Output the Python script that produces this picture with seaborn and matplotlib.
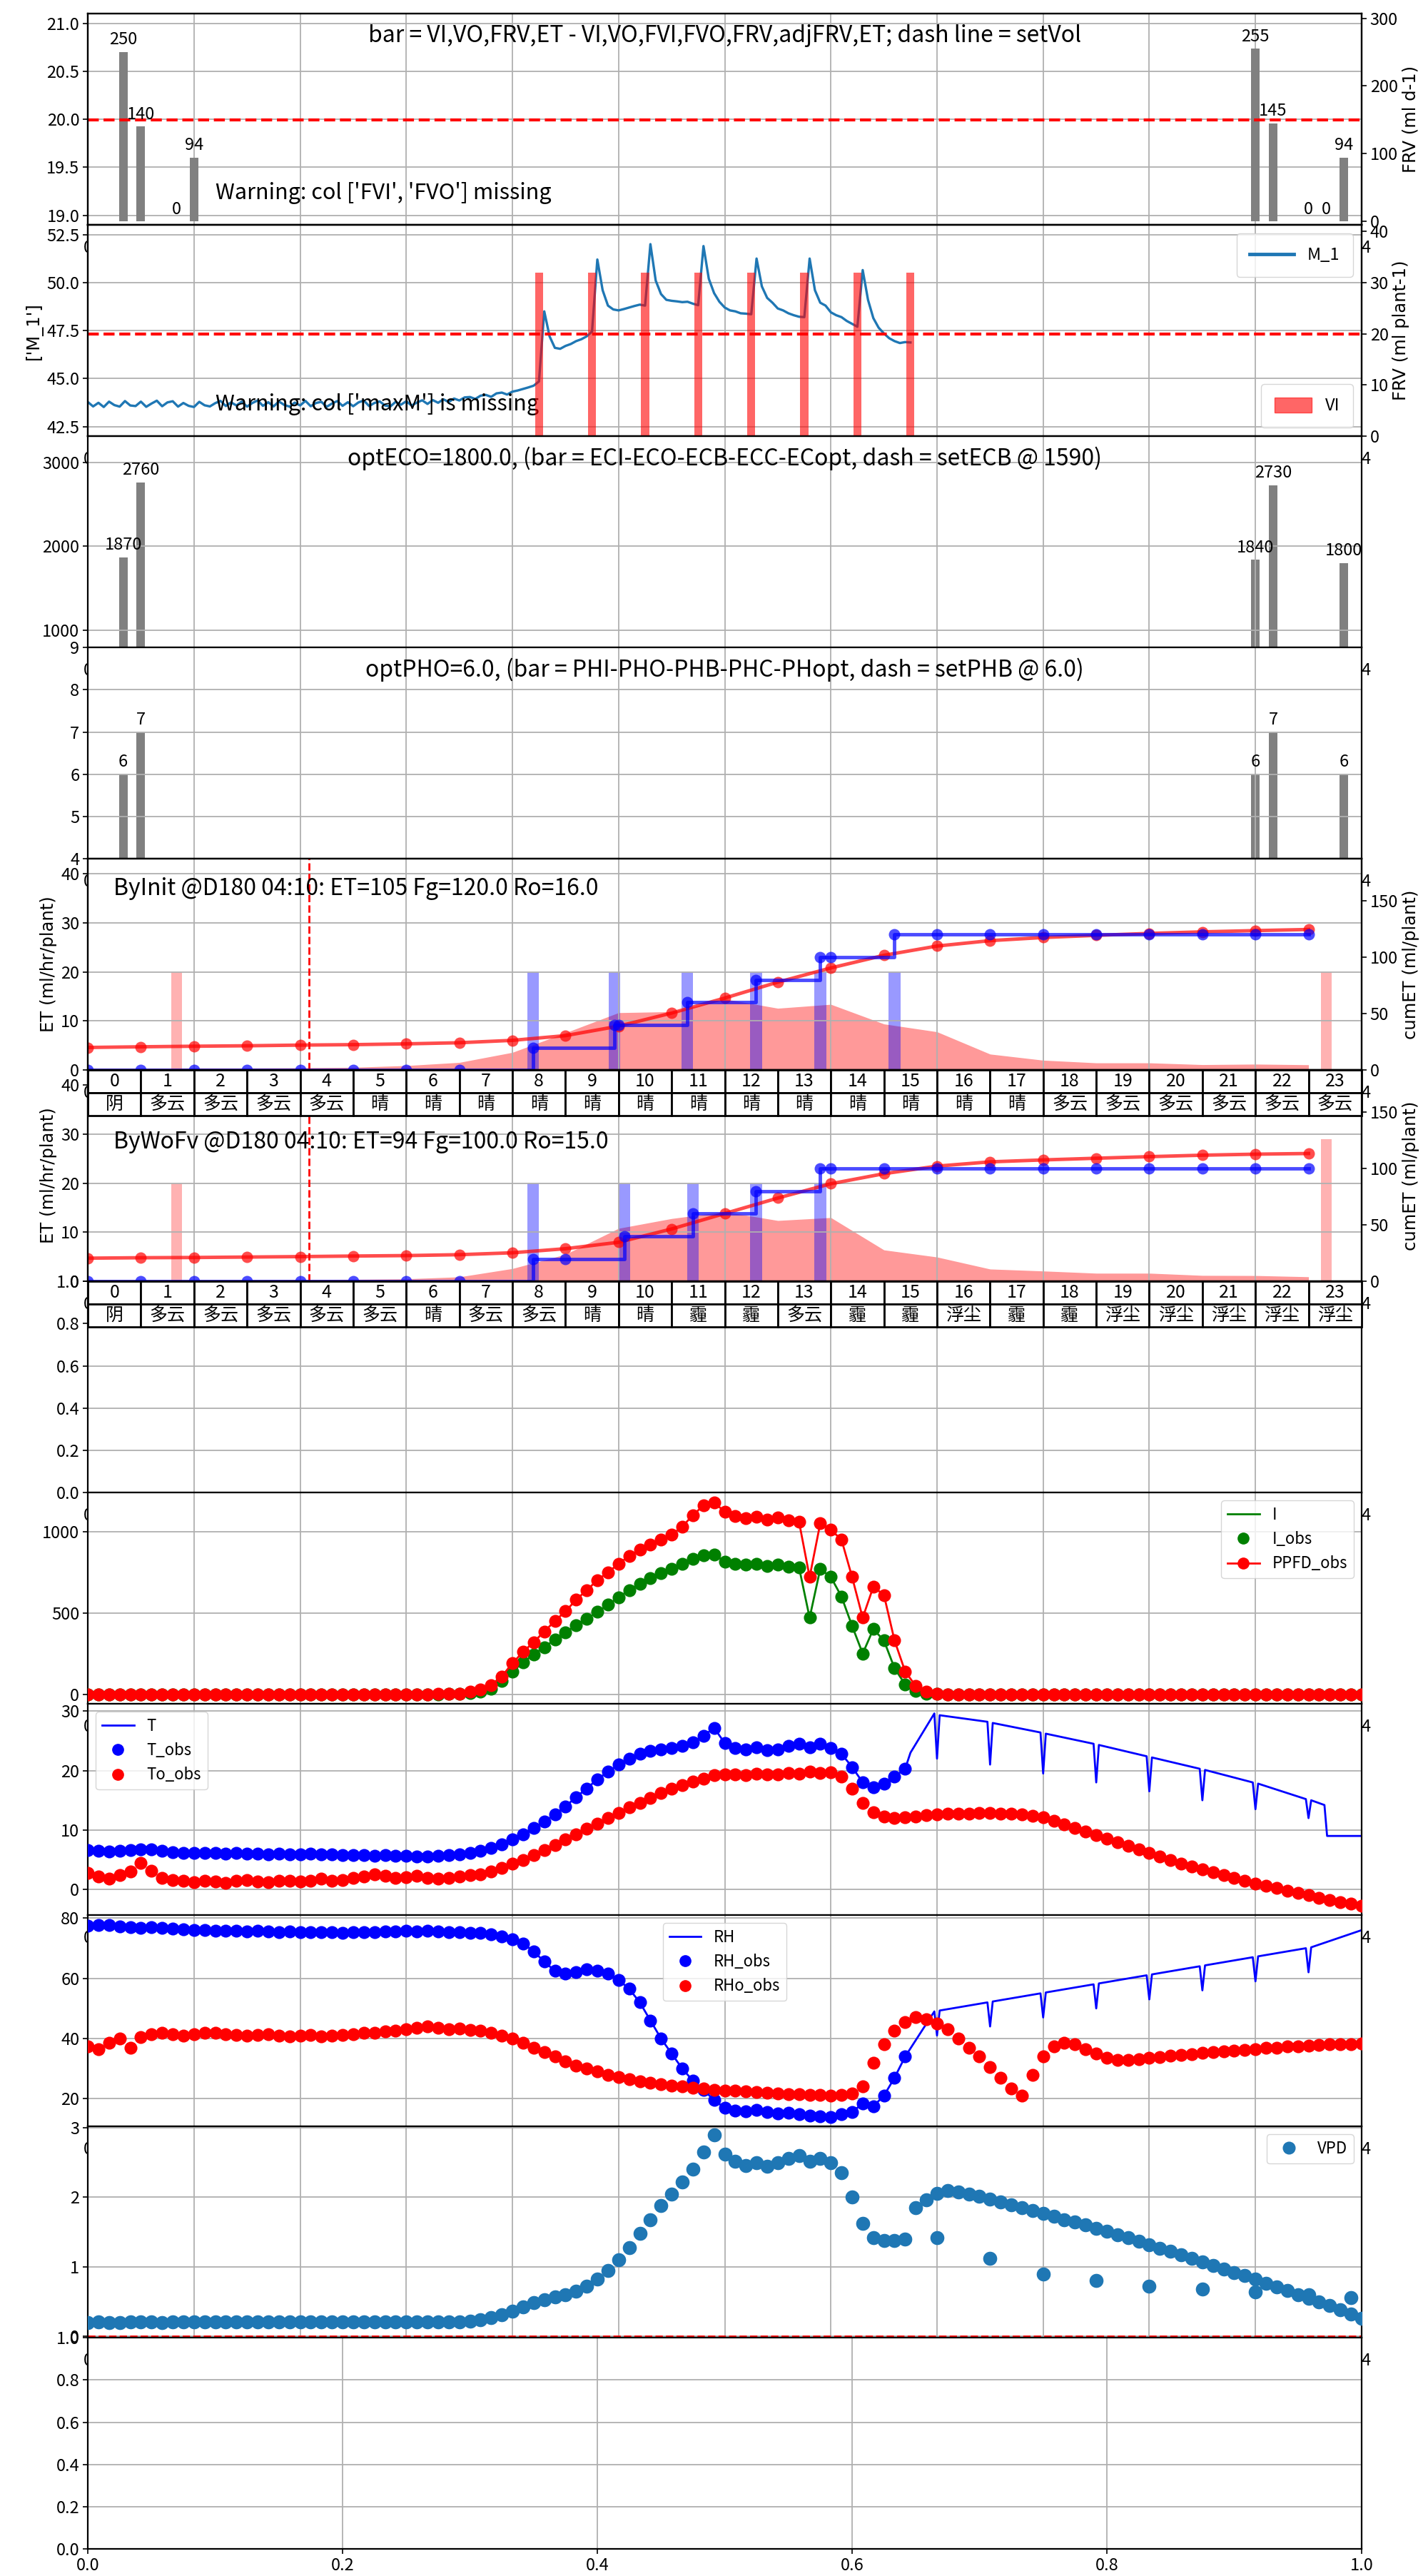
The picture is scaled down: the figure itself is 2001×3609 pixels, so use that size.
import numpy as np
import matplotlib
matplotlib.use("Agg")
import matplotlib.pyplot as plt
import seaborn as sns
from matplotlib.lines import Line2D
from matplotlib.patches import Patch

# ---------------------------------------------------------------- data
HOURS = list(range(24))
HOUR_LABELS = [str(h) for h in HOURS]

# daily water balance bars (ml/d)
VOL_LEFT_X = [0.667, 1.0, 1.333, 1.667, 2.0]
VOL_LEFT = [250, 140, np.nan, 0, 94]
VOL_RIGHT_X = [22.0, 22.333, 22.667, 23.0, 23.333, 23.667]
VOL_RIGHT = [255, 145, np.nan, 0, 0, 94]
SET_VOL = 150

# substrate moisture M_1 (every 6 min, 0:00 - 15:30)
M1 = [
    43.78, 43.55, 43.74, 43.52, 43.80, 43.62, 43.54, 43.83, 43.60, 43.57,
    43.80, 43.53, 43.70, 43.85, 43.56, 43.76, 43.82, 43.54, 43.73, 43.58,
    43.52, 43.79, 43.61, 43.55, 43.72, 43.84, 43.57, 43.76, 43.60, 43.80,
    43.54, 43.73, 43.86, 43.58, 43.77, 43.55, 43.81, 43.63, 43.54, 43.75,
    43.60, 43.84, 43.56, 43.73, 43.79, 43.53, 43.70, 43.83, 43.58, 43.77,
    43.56, 43.76, 43.86, 43.57, 43.73, 43.81, 43.60, 43.55, 43.79, 43.64,
    43.82, 43.60, 43.75, 43.87, 43.68, 43.88, 43.74, 43.92, 43.78, 43.96,
    43.86, 44.02, 44.04, 43.94, 44.11, 44.15, 44.05, 44.23, 44.27, 44.17,
    44.32, 44.38, 44.46, 44.54, 44.63, 44.85, 48.50, 47.20, 46.60, 46.55,
    46.70, 46.80, 46.95, 47.05, 47.20, 47.45, 51.20, 49.60, 48.80, 48.60,
    48.55, 48.62, 48.70, 48.78, 48.85, 48.80, 52.00, 50.10, 49.40, 49.10,
    49.05, 49.02, 48.98, 49.00, 48.90, 48.82, 51.90, 50.20, 49.45, 49.00,
    48.70, 48.55, 48.50, 48.40, 48.38, 48.35, 51.25, 49.80, 49.20, 48.95,
    48.65, 48.55, 48.40, 48.30, 48.22, 48.20, 51.25, 49.60, 48.95, 48.80,
    48.45, 48.30, 48.20, 48.00, 47.85, 47.70, 50.65, 49.10, 48.15, 47.65,
    47.35, 47.10, 46.95, 46.85, 46.90, 46.88,
]
VI_X = [8.5, 9.5, 10.5, 11.5, 12.5, 13.5, 14.5, 15.5]
VI = [32, 32, 32, 32, 32, 32, 32, 32]
SET_FRV = 20

# EC and pH bars
EC_X = [0.667, 1.0, 22.0, 22.333, 23.667]
EC = [1870, 2760, 1840, 2730, 1800]
PH_X = [0.667, 1.0, 22.0, 22.333, 23.667]
PH = [6, 7, 6, 7, 6]

# hourly ET model, scenario "ByInit"
INIT_ET = [0.35, 0.35, 0.4, 0.4, 0.45, 0.55, 0.9, 1.55, 3.6, 7.6, 11.7, 11.9,
           14.5, 12.6, 13.4, 9.4, 7.8, 3.25, 2.0, 1.46, 1.46, 1.1, 1.2, 1.07]
INIT_CUM = [20.0, 20.6, 21.1, 21.5, 22.1, 22.5, 23.2, 24.2, 26.3, 30.5, 38.9, 50.5,
            63.8, 77.9, 90.5, 101.7, 109.9, 114.7, 117.5, 119.4, 121.1, 122.5, 123.6, 124.6]
INIT_IRR_T = [0, 1, 2, 3, 4, 5, 6, 7, 8.39, 9.92, 10.0, 11.29, 12.59, 13.8, 14.0, 15.2,
              16, 17, 18, 19, 20, 21, 22, 23]
INIT_IRR = [0, 0, 0, 0, 0, 0, 0, 0, 20, 40, 40, 60, 80, 100, 100, 120,
            120, 120, 120, 120, 120, 120, 120, 120]
INIT_EVT = [8.39, 9.92, 11.29, 12.59, 13.8, 15.2]
INIT_DRAIN_T = [1.67, 23.33]
INIT_DRAIN = [20, 20]
INIT_WEATHER = ["阴", "多云", "多云", "多云", "多云", "晴", "晴", "晴", "晴", "晴", "晴", "晴",
                "晴", "晴", "晴", "晴", "晴", "晴", "多云", "多云", "多云", "多云", "多云", "多云"]

# hourly ET model, scenario "ByWoFv"
WOFV_ET = [0.3, 0.3, 0.3, 0.3, 0.35, 0.4, 0.5, 0.9, 2.6, 5.5, 10.8, 12.8,
           14.2, 12.4, 13.0, 6.4, 4.95, 2.5, 2.1, 1.65, 1.65, 1.2, 1.17, 0.92]
WOFV_CUM = [20.5, 20.9, 21.1, 21.5, 21.9, 22.4, 22.8, 23.6, 25.3, 28.9, 34.6, 46.4,
            60.1, 73.8, 86.5, 95.4, 102.1, 105.9, 107.6, 109.1, 110.5, 111.8, 112.7, 113.3]
WOFV_IRR_T = [0, 1, 2, 3, 4, 5, 6, 7, 8.39, 9.0, 10.11, 11.4, 12.59, 13.8,
              14, 15, 16, 17, 18, 19, 20, 21, 22, 23]
WOFV_IRR = [0, 0, 0, 0, 0, 0, 0, 0, 20, 20, 40, 60, 80, 100,
            100, 100, 100, 100, 100, 100, 100, 100, 100, 100]
WOFV_EVT = [8.39, 10.11, 11.4, 12.59, 13.8]
WOFV_DRAIN_T = [1.67, 23.33]
WOFV_DRAIN = [20, 29]
WOFV_WEATHER = ["阴", "多云", "多云", "多云", "多云", "多云", "晴", "多云", "多云", "晴", "晴", "霾",
                "霾", "多云", "霾", "霾", "浮尘", "霾", "霾", "浮尘", "浮尘", "浮尘", "浮尘", "浮尘"]
IRR_EVENT_VOL = 20
REF_TIME = 4 + 10 / 60

# climate observations every 12 min (0:00 - 24:00)
PPFD_OBS = [
    0, 0, 0, 0, 0,  0, 0, 0, 0, 0,  0, 0, 0, 0, 0,  0, 0, 0, 0, 0,
    0, 0, 0, 0, 0,  0, 0, 0, 0, 0,  0, 0, 0, 1, 3,
    5, 15, 30, 55, 110,  190, 260, 320, 385, 450,  510, 580, 640, 700, 750,
    800, 850, 890, 920, 950,  980, 1030, 1100, 1160, 1180,
    1120, 1095, 1080, 1090, 1075,  1085, 1070, 1060, 720, 1050,
    1010, 950, 720, 470, 660,  610, 330, 140, 50, 15,  5, 0, 0, 0, 0,
    0, 0, 0, 0, 0,  0, 0, 0, 0, 0,  0, 0, 0, 0, 0,  0, 0, 0, 0, 0,
    0, 0, 0, 0, 0,  0, 0, 0, 0, 0,  0, 0, 0, 0, 0,  0,
]
I_OBS = [
    0, 0, 0, 0, 0,  0, 0, 0, 0, 0,  0, 0, 0, 0, 0,  0, 0, 0, 0, 0,
    0, 0, 0, 0, 0,  0, 0, 0, 0, 0,  0, 0, 0, 0, 1,
    2, 8, 18, 35, 80,  140, 195, 245, 290, 335,  380, 425, 465, 505, 550,
    595, 640, 680, 715, 745,  770, 800, 830, 855, 860,
    815, 800, 795, 800, 790,  795, 785, 780, 470, 770,
    720, 600, 420, 250, 400,  330, 160, 60, 20, 5,  2, 0, 0, 0, 0,
    0, 0, 0, 0, 0,  0, 0, 0, 0, 0,  0, 0, 0, 0, 0,  0, 0, 0, 0, 0,
    0, 0, 0, 0, 0,  0, 0, 0, 0, 0,  0, 0, 0, 0, 0,  0,
]
T_OBS = [
    6.6, 6.5, 6.4, 6.5, 6.6,  6.8, 6.7, 6.5, 6.3, 6.2,  6.2, 6.1, 6.1, 6.0, 6.1,
    6.0, 6.0, 5.9, 6.0, 5.9,  5.9, 6.0, 5.9, 5.9, 5.8,  5.8, 5.8, 5.7, 5.8, 5.7,
    5.7, 5.6, 5.6, 5.7, 5.8,  5.9, 6.1, 6.5, 7.0, 7.6,  8.4, 9.3, 10.3, 11.4, 12.6,
    14.0, 15.5, 17.0, 18.5, 19.8,  21.0, 22.0, 22.8, 23.3, 23.6,
    23.8, 24.2, 24.8, 25.8, 27.2,  24.6, 23.8, 23.5, 23.9, 23.4,
    23.5, 24.2, 24.5, 23.9, 24.5,  23.8, 22.8, 20.6, 18.0, 17.2,  17.8, 19.0, 20.3,
]
T_FC_X = [15.4, 15.5, 15.95, 16.0, 16.05, 16.95, 17.0, 17.05, 17.95, 18.0, 18.05, 18.95, 19.0,
          19.05, 19.95, 20.0, 20.05, 20.95, 21.0, 21.05, 21.95, 22.0, 22.05, 22.95, 23.0,
          23.05, 23.3, 23.35, 24.0]
T_FC = [20.3, 23.0, 29.6, 22.0, 29.3, 28.2, 21.0, 28.0, 26.4, 19.5, 26.2, 24.5, 18.0,
        24.3, 22.4, 16.5, 22.2, 20.3, 15.0, 20.1, 18.0, 13.5, 17.8, 15.2, 12.0,
        15.0, 14.2, 9.0, 9.0]
TO_OBS = [
    2.8, 2.2, 1.8, 2.4, 3.0,  4.5, 3.2, 2.0, 1.6, 1.4,  1.2, 1.5, 1.3, 1.1, 1.4,
    1.6, 1.3, 1.2, 1.5, 1.4,  1.3, 1.5, 1.8, 1.4, 1.6,  1.9, 2.2, 2.6, 2.3, 2.0,
    2.1, 2.3, 2.0, 1.8, 2.0,  2.2, 2.4, 2.6, 3.0, 3.6,  4.3, 5.0, 5.8, 6.6, 7.5,
    8.4, 9.3, 10.2, 11.1, 12.0,  12.9, 13.8, 14.6, 15.4, 16.2,  16.9, 17.5, 18.1, 18.6, 19.2,
    19.4, 19.3, 19.2, 19.5, 19.3,  19.4, 19.6, 19.5, 19.8, 19.6,  19.7, 19.0, 17.0, 14.5, 13.0,
    12.3, 12.0, 12.1, 12.3, 12.5,  12.6, 12.7, 12.8, 12.8, 12.9,  12.9, 12.8, 12.7, 12.6, 12.4,
    12.1, 11.6, 11.0, 10.4, 9.8,  9.2, 8.6, 8.0, 7.4, 6.8,  6.2, 5.6, 5.0, 4.4, 3.9,
    3.4, 2.9, 2.4, 1.9, 1.5,  1.0, 0.6, 0.2, -0.2, -0.6,  -1.0, -1.4, -1.8, -2.1, -2.4,  -2.7,
]
RH_OBS = [
    77.5, 77.8, 77.6, 77.3, 77.0,  76.8, 76.9, 76.7, 76.4, 76.2,  76.0, 76.1, 75.9, 75.8, 75.7,
    75.6, 75.7, 75.5, 75.4, 75.5,  75.4, 75.3, 75.4, 75.3, 75.2,  75.3, 75.4, 75.3, 75.5, 75.6,
    75.7, 75.6, 75.8, 75.6, 75.4,  75.3, 75.2, 75.0, 74.6, 74.0,  73.0, 71.5, 69.0, 65.5, 62.5,
    61.5, 62.0, 63.0, 62.5, 61.5,  59.5, 56.5, 52.0, 46.0, 40.0,  35.0, 30.0, 26.0, 23.0, 19.5,
    17.0, 16.0, 15.8, 16.2, 15.5,  15.2, 15.4, 14.8, 14.5, 14.2,  14.0, 14.8, 15.5, 18.5, 17.5,
    21.0, 27.0, 34.0,
]
RH_FC_X = [15.4, 15.95, 16.0, 16.05, 16.95, 17.0, 17.05, 17.95, 18.0, 18.05, 18.95, 19.0,
           19.05, 19.95, 20.0, 20.05, 20.95, 21.0, 21.05, 21.95, 22.0, 22.05, 22.95, 23.0,
           23.05, 24.0]
RH_FC = [34.0, 49.0, 41.0, 49.3, 52.0, 44.0, 52.3, 55.0, 47.0, 55.3, 58.0, 50.0,
         58.3, 61.0, 53.0, 61.3, 64.0, 56.0, 64.3, 67.0, 59.0, 67.3, 70.0, 62.0,
         70.3, 76.0]
RHO_OBS = [
    37.5, 36.5, 38.5, 40.0, 37.0,  40.5, 41.5, 42.0, 41.5, 41.0,  41.5, 42.0, 41.8, 41.5, 41.2,
    41.0, 41.3, 41.5, 41.0, 40.8,  41.0, 41.2, 40.8, 41.0, 41.3,  41.5, 41.8, 42.0, 42.3, 42.5,
    43.0, 43.5, 44.0, 43.5, 43.0,  43.2, 42.8, 42.5, 42.0, 41.0,  40.0, 38.5, 37.0, 35.5, 34.0,
    32.5, 31.0, 30.0, 29.0, 28.0,  27.2, 26.5, 25.8, 25.2, 24.8,  24.4, 24.0, 23.6, 23.3, 23.0,
    22.8, 22.6, 22.4, 22.2, 22.0,  21.8, 21.6, 21.5, 21.3, 21.2,  21.0, 21.2, 21.8, 24.0, 32.0,
    38.0, 42.5, 45.5, 47.0, 46.5,  45.0, 43.0, 40.0, 37.0, 34.0,  30.5, 27.0, 23.5, 21.0, 28.0,
    34.0, 37.5, 38.5, 38.0, 36.5,  35.0, 33.5, 33.0, 33.0, 33.2,  33.5, 33.8, 34.2, 34.5, 34.8,
    35.2, 35.5, 35.8, 36.0, 36.3,  36.5, 36.8, 37.0, 37.3, 37.5,  37.7, 37.9, 38.0, 38.1, 38.2,  38.3,
]
VPD_OBS = [
    0.20, 0.21, 0.20, 0.20, 0.21,  0.21, 0.21, 0.20, 0.21, 0.21,  0.21, 0.21, 0.21, 0.21, 0.21,
    0.21, 0.21, 0.21, 0.21, 0.21,  0.21, 0.21, 0.21, 0.21, 0.21,  0.21, 0.21, 0.21, 0.21, 0.21,
    0.21, 0.21, 0.21, 0.21, 0.21,  0.21, 0.22, 0.24, 0.27, 0.31,  0.36, 0.42, 0.48, 0.53, 0.57,
    0.60, 0.65, 0.72, 0.82, 0.95,  1.10, 1.28, 1.48, 1.68, 1.88,  2.05, 2.22, 2.40, 2.65, 2.90,
    2.62, 2.52, 2.46, 2.50, 2.45,  2.50, 2.56, 2.60, 2.52, 2.56,  2.50, 2.35, 2.00, 1.62, 1.42,
    1.38, 1.38, 1.40, 1.85, 1.96,  2.06, 2.10, 2.08, 2.05, 2.01,  1.97, 1.93, 1.89, 1.85, 1.81,
    1.77, 1.73, 1.68, 1.64, 1.60,  1.55, 1.51, 1.46, 1.42, 1.37,  1.32, 1.27, 1.22, 1.17, 1.12,
    1.07, 1.02, 0.97, 0.92, 0.87,  0.82, 0.76, 0.71, 0.66, 0.60,  0.55, 0.49, 0.44, 0.38, 0.32,  0.26,
]
VPD_HOURLY_X = [16, 17, 18, 19, 20, 21, 22, 23, 23.8]
VPD_HOURLY = [1.42, 1.12, 0.90, 0.80, 0.72, 0.68, 0.64, 0.60, 0.56]

OBS_T = np.round(np.arange(121) * 0.2, 1)
M1_T = np.round(np.arange(len(M1)) * 0.1, 1)

# ---------------------------------------------------------------- style
plt.rcParams.update({
    "font.family": ["Noto Sans CJK JP", "DejaVu Sans"],
    "font.size": 17,
    "xtick.labelsize": 17,
    "ytick.labelsize": 17,
    "axes.linewidth": 1.6,
    "xtick.major.size": 5,
    "ytick.major.size": 5,
    "xtick.major.width": 1.2,
    "ytick.major.width": 1.2,
    "grid.color": "#b0b0b0",
    "grid.linewidth": 1.3,
    "legend.fontsize": 16,
    "axes.unicode_minus": False,
})
LABEL_FONT = "DejaVu Sans"
LABEL_SIZE = 17.5
NOTE_SIZE = 23
WARN_SIZE = 22
TABLE_SIZE = 18
BAR_W = 0.16
DOT = 170          # scatter marker area (pt^2)

fig = plt.figure(figsize=(20.01, 36.09), dpi=100)
gs = fig.add_gridspec(12, 1, left=0.0615, right=0.9535, top=0.9947, bottom=0.0105, hspace=0)
axs = [fig.add_subplot(gs[i]) for i in range(12)]

hour_ticks = list(range(0, 25, 2))
hour_tick_labels = ["0"] + [""] * (len(hour_ticks) - 2) + ["24"]
for i, ax in enumerate(axs):
    ax.grid(True)
    if i < 11:
        ax.set_xlim(0, 24)
        ax.set_xticks(hour_ticks)
        ax.set_xticklabels(hour_tick_labels)
        ax.tick_params(axis="x", pad=10)

# secondary axes are created after all primary panels so they stack on top
tw1 = axs[0].twinx()
tw2 = axs[1].twinx()
tw5 = axs[4].twinx()
tw6 = axs[5].twinx()


def labelled_bars(ax, xs, vals):
    pts = [(x, v) for x, v in zip(xs, vals) if np.isfinite(v)]
    ax.bar([p[0] for p in pts], [p[1] for p in pts], width=BAR_W, color="gray")
    for x, v in pts:
        ax.annotate(f"{v:g}", (x, v), xytext=(0, 4), textcoords="offset points",
                    ha="center", va="bottom", fontsize=17)


def title(ax, text):
    ax.text(0.5, 0.95, text, transform=ax.transAxes, ha="center", va="top", fontsize=NOTE_SIZE)


# panel 1: daily volumes
ax = axs[0]
ax.set_ylim(18.9, 21.1)
ax.set_yticks([19.0, 19.5, 20.0, 20.5, 21.0])
labelled_bars(tw1, VOL_LEFT_X, VOL_LEFT)
labelled_bars(tw1, VOL_RIGHT_X, VOL_RIGHT)
tw1.axhline(SET_VOL, color="red", ls="--", lw=3)
tw1.set_ylim(-5.3, 306.8)
tw1.set_yticks([0, 100, 200, 300])
tw1.set_ylabel("FRV (ml d-1)", family=LABEL_FONT, fontsize=LABEL_SIZE)
title(ax, "bar = VI,VO,FRV,ET - VI,VO,FVI,FVO,FRV,adjFRV,ET; dash line = setVol")
ax.text(0.1, 0.1, "Warning: col ['FVI', 'FVO'] missing", transform=ax.transAxes,
        ha="left", va="bottom", fontsize=WARN_SIZE)

# panel 2: substrate moisture with irrigation volumes
ax = axs[1]
sns.lineplot(x=M1_T, y=M1, ax=ax, color="#1f77b4", lw=2.4, estimator=None, sort=False, legend=False)
ax.set_ylim(42.0, 53.0)
ax.set_yticks([42.5, 45.0, 47.5, 50.0, 52.5])
ax.set_ylabel("['M_1']", family=LABEL_FONT, fontsize=LABEL_SIZE)
ax.text(0.1, 0.1, "Warning: col ['maxM'] is missing", transform=ax.transAxes,
        ha="left", va="bottom", fontsize=WARN_SIZE)
ax.legend(handles=[Line2D([], [], color="#1f77b4", lw=3.5)], labels=["M_1"],
          loc="upper right", handlelength=2.6, fontsize=17, borderpad=0.8)
tw2.bar(VI_X, VI, width=0.15, color="red", alpha=0.6)
tw2.axhline(SET_FRV, color="red", ls="--", lw=3)
tw2.set_ylim(0, 41.3)
tw2.set_yticks([0, 10, 20, 30, 40])
tw2.set_ylabel("FRV (ml plant-1)", family=LABEL_FONT, fontsize=LABEL_SIZE)
tw2.legend(handles=[Patch(color="red", alpha=0.6)], labels=["VI"], loc="lower right",
           fontsize=17, borderpad=0.8, handlelength=2.2, handleheight=1.0)

# panel 3: EC
ax = axs[2]
labelled_bars(ax, EC_X, EC)
ax.set_ylim(792, 3313)
ax.set_yticks([1000, 2000, 3000])
title(ax, "optECO=1800.0, (bar = ECI-ECO-ECB-ECC-ECopt, dash = setECB @ 1590)")

# panel 4: pH
ax = axs[3]
labelled_bars(ax, PH_X, PH)
ax.set_ylim(4, 9)
ax.set_yticks([4, 5, 6, 7, 8, 9])
title(ax, "optPHO=6.0, (bar = PHI-PHO-PHB-PHC-PHopt, dash = setPHB @ 6.0)")


def et_panel(ax, tw, et, cum, irr_t, irr, evt, drain_t, drain, weather, note, note_y):
    ax.fill_between(HOURS, et, color="red", alpha=0.4, lw=0)
    ax.bar(evt, [IRR_EVENT_VOL] * len(evt), width=0.22, color="blue", alpha=0.4)
    ax.bar(drain_t, drain, width=0.2, color="red", alpha=0.3)
    ax.axvline(REF_TIME, color="red", ls="--", lw=2)
    ax.set_ylim(0, 43.1)
    ax.set_yticks([0, 10, 20, 30, 40])
    ax.set_ylabel("ET (ml/hr/plant)", family=LABEL_FONT, fontsize=LABEL_SIZE)
    ax.text(0.02, note_y, note, transform=ax.transAxes, ha="left", va="center", fontsize=NOTE_SIZE)
    sns.lineplot(x=HOURS, y=cum, ax=tw, color="red", alpha=0.7, lw=3.5, marker="o",
                 markersize=11.5, markeredgewidth=0, estimator=None, sort=False, legend=False)
    tw.plot(irr_t, irr, drawstyle="steps-post", color="blue", alpha=0.7, lw=3.5,
            marker="o", ms=11.5, mew=0)
    tw.set_ylim(0, 187.3)
    tw.set_yticks([0, 50, 100, 150])
    tw.set_ylabel("cumET (ml/plant)", family=LABEL_FONT, fontsize=LABEL_SIZE)
    tab = tw.table(cellText=[HOUR_LABELS, weather], cellLoc="center",
                   bbox=[0, -0.2162, 1, 0.2162])
    tab.auto_set_font_size(False)
    tab.set_fontsize(TABLE_SIZE)
    for cell in tab.get_celld().values():
        cell.set_linewidth(2.0)


et_panel(axs[4], tw5, INIT_ET, INIT_CUM, INIT_IRR_T, INIT_IRR, INIT_EVT, INIT_DRAIN_T,
         INIT_DRAIN, INIT_WEATHER, "ByInit @D180 04:10: ET=105 Fg=120.0 Ro=16.0", 0.858)
et_panel(axs[5], tw6, WOFV_ET, WOFV_CUM, WOFV_IRR_T, WOFV_IRR, WOFV_EVT, WOFV_DRAIN_T,
         WOFV_DRAIN, WOFV_WEATHER, "ByWoFv @D180 04:10: ET=94 Fg=100.0 Ro=15.0", 0.659)

# panel 7: empty
axs[6].set_ylim(0, 1)

# panel 8: light
ax = axs[7]
ax.plot(OBS_T, I_OBS, color="green", lw=2)
sns.scatterplot(x=OBS_T, y=I_OBS, ax=ax, color="green", s=DOT, linewidth=0, legend=False, zorder=3)
ax.plot(OBS_T, PPFD_OBS, color="red", lw=2, marker="o", ms=13, mew=0, zorder=4)
ax.set_yticks([0, 500, 1000])
ax.legend(handles=[Line2D([], [], color="green", lw=2),
                   Line2D([], [], color="green", ls="none", marker="o", ms=11),
                   Line2D([], [], color="red", lw=2, marker="o", ms=11)],
          labels=["I", "I_obs", "PPFD_obs"], loc="upper right")

# panel 9: temperature
ax = axs[8]
ax.plot(np.concatenate([OBS_T[:len(T_OBS)], T_FC_X]), T_OBS + T_FC, color="blue", lw=2)
sns.scatterplot(x=OBS_T[:len(T_OBS)], y=T_OBS, ax=ax, color="blue", s=DOT, linewidth=0,
                legend=False, zorder=3)
sns.scatterplot(x=OBS_T, y=TO_OBS, ax=ax, color="red", s=DOT, linewidth=0, legend=False, zorder=3)
ax.set_yticks([0, 10, 20, 30])
ax.legend(handles=[Line2D([], [], color="blue", lw=2),
                   Line2D([], [], color="blue", ls="none", marker="o", ms=11),
                   Line2D([], [], color="red", ls="none", marker="o", ms=11)],
          labels=["T", "T_obs", "To_obs"], loc="upper left")

# panel 10: relative humidity
ax = axs[9]
ax.plot(np.concatenate([OBS_T[:len(RH_OBS)], RH_FC_X]), RH_OBS + RH_FC, color="blue", lw=2)
sns.scatterplot(x=OBS_T[:len(RH_OBS)], y=RH_OBS, ax=ax, color="blue", s=DOT, linewidth=0,
                legend=False, zorder=3)
sns.scatterplot(x=OBS_T, y=RHO_OBS, ax=ax, color="red", s=DOT, linewidth=0, legend=False, zorder=3)
ax.set_yticks([20, 40, 60, 80])
ax.legend(handles=[Line2D([], [], color="blue", lw=2),
                   Line2D([], [], color="blue", ls="none", marker="o", ms=11),
                   Line2D([], [], color="red", ls="none", marker="o", ms=11)],
          labels=["RH", "RH_obs", "RHo_obs"], loc="upper center")

# panel 11: vapour pressure deficit
ax = axs[10]
sns.scatterplot(x=np.concatenate([OBS_T, VPD_HOURLY_X]), y=VPD_OBS + VPD_HOURLY, ax=ax,
                color="#1f77b4", s=200, linewidth=0, legend=False, zorder=3)
ax.axhline(0, color="red", ls="--", lw=2)
ax.set_ylim(-0.02, 3.02)
ax.set_yticks([0, 1, 2, 3])
ax.legend(handles=[Line2D([], [], color="#1f77b4", ls="none", marker="o", ms=12)],
          labels=["VPD"], loc="upper right")

# panel 12: empty
axs[11].set_xlim(0, 1)
axs[11].set_ylim(0, 1)

fig.savefig("out.png", dpi=100)
